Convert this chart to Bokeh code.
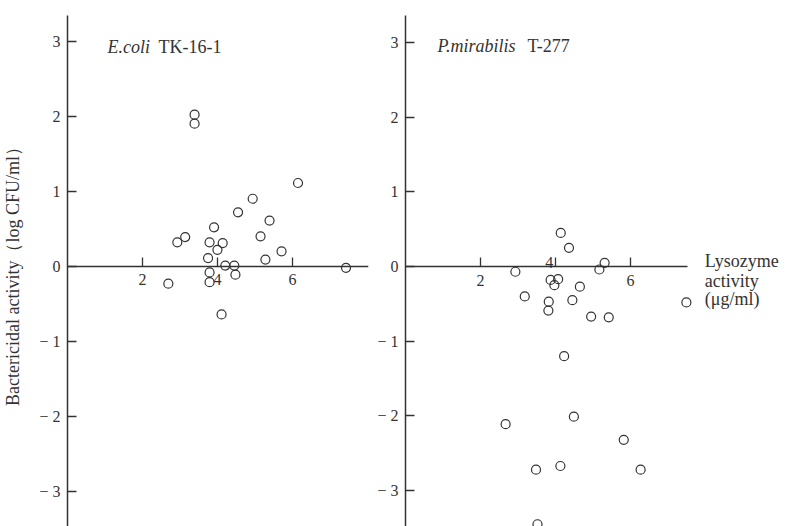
from bokeh.plotting import figure
from bokeh.layouts import row
from bokeh.models import FixedTicker, Range1d, Label
from bokeh.embed import file_html
from bokeh.resources import INLINE

# E.coli TK-16-1 : lysozyme activity (ug/ml) vs bactericidal activity (log CFU/ml)
ecoli_x = [3.39, 3.39, 6.15, 4.94, 4.55, 5.39, 3.91, 3.14, 2.93, 5.15, 3.79, 4.14,
           4.00, 5.71, 3.75, 5.28, 4.21, 4.45, 7.43, 3.79, 4.48, 2.69, 3.79, 4.11]
ecoli_y = [2.02, 1.90, 1.11, 0.90, 0.72, 0.61, 0.52, 0.39, 0.32, 0.40, 0.32, 0.31,
           0.22, 0.20, 0.11, 0.09, 0.01, 0.01, -0.02, -0.08, -0.11, -0.23, -0.21, -0.64]

# P.mirabilis T-277
prot_x = [4.14, 4.36, 5.31, 5.17, 2.93, 3.87, 4.07, 3.97, 4.65, 3.18, 4.45, 3.82,
          3.81, 7.49, 4.95, 5.42, 4.23, 4.49, 2.67, 5.82, 4.13, 3.48, 6.27, 3.52]
prot_y = [0.45, 0.25, 0.05, -0.04, -0.07, -0.18, -0.17, -0.25, -0.27, -0.40, -0.45, -0.47,
          -0.59, -0.48, -0.67, -0.68, -1.20, -2.01, -2.11, -2.32, -2.67, -2.72, -2.72, -3.45]

y_ticks = [-3, -2, -1, 0, 1, 2, 3]
y_tick_labels = ["\u2212 3", "\u2212 2", "\u2212 1", "0", "1", "2", "3"]
x_ticks = [2, 4, 6]
x_tick_labels = ["2", "4", "6"]

FONT = "Liberation Serif"
INK = "#333333"


def make_fig(x_end, y_start, y_end, frame_w, frame_h, top, left, right):
    p = figure(x_range=Range1d(0, x_end), y_range=Range1d(y_start, y_end),
               frame_width=frame_w, frame_height=frame_h,
               min_border_top=top, min_border_left=left, min_border_right=right,
               min_border_bottom=0, output_backend="svg", toolbar_location=None,
               background_fill_color="white", border_fill_color="white",
               outline_line_color=None)
    p.grid.visible = False
    for ax in (p.xaxis, p.yaxis):
        ax.axis_line_color = INK
        ax.axis_line_width = 1.5
        ax.major_tick_line_color = INK
        ax.major_tick_line_width = 1.3
        ax.major_tick_in = 9
        ax.major_tick_out = 0
        ax.minor_tick_line_color = None
        ax.major_label_text_font = FONT
        ax.major_label_text_font_size = "16px"
        ax.major_label_text_color = INK
    p.yaxis.ticker = FixedTicker(ticks=y_ticks)
    p.yaxis.major_label_overrides = dict(zip(y_ticks, y_tick_labels))
    p.yaxis.major_label_standoff = 7
    p.xaxis.ticker = FixedTicker(ticks=x_ticks)
    p.xaxis.major_label_overrides = dict(zip(x_ticks, x_tick_labels))
    p.xaxis.fixed_location = 0
    p.xaxis.major_label_standoff = 8
    return p


# ---------- left panel ----------
p1 = make_fig(8.03, -3.49, 3.34, 301, 513, 13, 67, 6)
p1.yaxis.axis_label = "Bactericidal activity\uff08log CFU/ml\uff09"
p1.yaxis.axis_label_text_font = FONT
p1.yaxis.axis_label_text_font_style = "normal"
p1.yaxis.axis_label_text_font_size = "18px"
p1.yaxis.axis_label_text_color = INK
p1.yaxis.axis_label_standoff = 13
p1.scatter(ecoli_x, ecoli_y, marker="circle", size=9, fill_color=None,
           line_color=INK, line_width=1.2)
p1.add_layout(Label(x=1.07, y=2.92, text="E.coli", text_font=FONT,
                    text_font_style="italic", text_font_size="18px",
                    text_color=INK, text_baseline="alphabetic"))
p1.add_layout(Label(x=2.43, y=2.92, text="TK-16-1", text_font=FONT,
                    text_font_size="18px", text_color=INK,
                    text_baseline="alphabetic"))

# ---------- right panel ----------
p2 = make_fig(10.16, -3.48, 3.36, 381, 511, 15, 25, 0)
p2.xaxis.axis_line_color = None
p2.xaxis.major_label_overrides = {2: "2", 4: "", 6: "6"}
p2.segment(x0=[0], y0=[0], x1=[7.52], y1=[0], line_color=INK, line_width=1.5)
p2.scatter(prot_x, prot_y, marker="circle", size=9, fill_color=None,
           line_color=INK, line_width=1.2)
p2.add_layout(Label(x=3.83, y=0.055, text="4", text_font=FONT,
                    text_font_size="16px", text_color=INK,
                    text_align="center", text_baseline="alphabetic"))
p2.add_layout(Label(x=0.85, y=2.95, text="P.mirabilis", text_font=FONT,
                    text_font_style="italic", text_font_size="18px",
                    text_color=INK, text_baseline="alphabetic"))
p2.add_layout(Label(x=3.25, y=2.95, text="T-277", text_font=FONT,
                    text_font_size="18px", text_color=INK,
                    text_baseline="alphabetic"))
for txt, yy in (("Lysozyme", 0.08), ("activity", -0.19), ("(\u03bcg/ml)", -0.44)):
    p2.add_layout(Label(x=7.98, y=yy, text=txt, text_font=FONT,
                        text_font_size="18px", text_color=INK,
                        text_baseline="alphabetic"))

layout = row(p1, p2)
open("out.html", "w").write(file_html(layout, INLINE))
